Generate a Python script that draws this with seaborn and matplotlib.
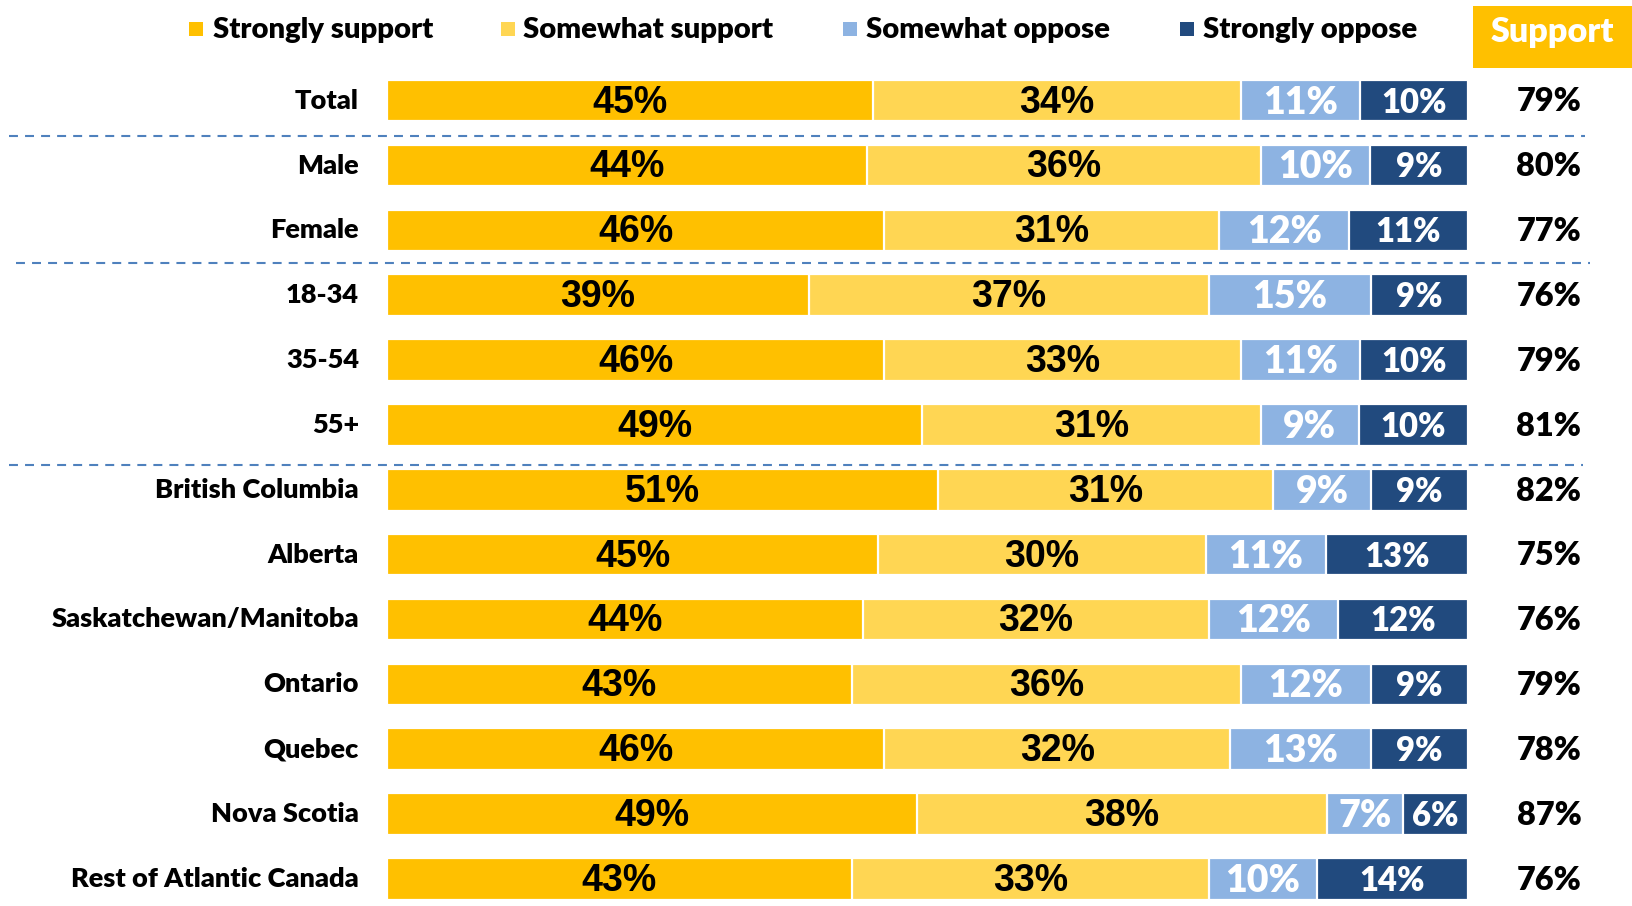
import numpy as np
import pandas as pd
import matplotlib
matplotlib.use("Agg")
import matplotlib.pyplot as plt
from matplotlib.patches import Rectangle
import seaborn as sns

categories = ["Total", "Male", "Female", "18-34", "35-54", "55+", "British Columbia",
              "Alberta", "Saskatchewan/Manitoba", "Ontario", "Quebec", "Nova Scotia",
              "Rest of Atlantic Canada"]
strongly_support = [45, 44, 46, 39, 46, 49, 51, 45, 44, 43, 46, 49, 43]
somewhat_support = [34, 36, 31, 37, 33, 31, 31, 30, 32, 36, 32, 38, 33]
somewhat_oppose = [11, 10, 12, 15, 11, 9, 9, 11, 12, 12, 13, 7, 10]
strongly_oppose = [10, 9, 11, 9, 10, 10, 9, 13, 12, 9, 9, 6, 14]
support_total = [79, 80, 77, 76, 79, 81, 82, 75, 76, 79, 78, 87, 76]
series_names = ["Strongly support", "Somewhat support", "Somewhat oppose", "Strongly oppose"]

colors = ["#FFC000", "#FFD653", "#8DB3E2", "#214A7E"]
label_colors = ["black", "black", "white", "white"]
label_sizes = [27, 27, 27, 23.7]

sns.set_theme(style="white")
plt.rcParams["font.family"] = ["Lato", "DejaVu Sans"]
WEIGHT = "heavy"

W, H = 1632, 906
X0, X1 = 387, 1468
Y0, DY = 100.7, 64.85
def dx(p): return (p - X0) / (X1 - X0) * 100
def dy(p): return (p - Y0) / DY

fig = plt.figure(figsize=(W / 100, H / 100), dpi=100)
ax = fig.add_axes([0, 0, 1, 1])

vals = np.array([strongly_support, somewhat_support, somewhat_oppose, strongly_oppose], dtype=float)
norm = vals / vals.sum(axis=0) * 100
cum = np.cumsum(norm, axis=0)

for k in range(3, -1, -1):
    df = pd.DataFrame({"cat": categories, "x": cum[k]})
    sns.barplot(data=df, x="x", y="cat", orient="h", color=colors[k], width=0.64,
                edgecolor="white", linewidth=1.6, saturation=1, ax=ax)

for k in range(4):
    starts = cum[k] - norm[k]
    for i in range(len(categories)):
        cx = starts[i] + norm[k][i] / 2
        if k < 2:
            ax.text(cx, i + 0.03, f"{int(vals[k][i])}%", ha="center", va="center",
                    fontsize=label_sizes[k], fontweight="bold",
                    family=["Liberation Sans", "DejaVu Sans"], color=label_colors[k])
        else:
            ax.text(cx, i + 0.03, f"{int(vals[k][i])}%", ha="center", va="center",
                    fontsize=label_sizes[k], fontweight=WEIGHT, color=label_colors[k])

for i, c in enumerate(categories):
    ax.text(dx(359), i, c, ha="right", va="center", fontsize=19.5, fontweight=WEIGHT, color="black")
    ax.text(dx(1549), i + 0.02, f"{support_total[i]}%", ha="center", va="center",
            fontsize=23.4, fontweight=WEIGHT, color="black")

# separators
for (xa, xb, yp) in [(9, 1585, 135.7), (16, 1590, 263.3), (9, 1583, 464.5)]:
    ax.plot([dx(xa), dx(xb)], [dy(yp), dy(yp)], color="#4F81BD", lw=1.5,
            dashes=(4.3, 3.4))

# support header box
ax.add_patch(Rectangle((dx(1473), dy(6)), dx(1640) - dx(1473), dy(68) - dy(6),
                       facecolor="#FFC000", edgecolor="none", clip_on=False))
ax.text(dx(1552), dy(32), "Support", ha="center", va="center", fontsize=24.6,
        fontweight=WEIGHT, color="white")

# legend
sq_x = [189, 501, 843, 1180]
tx_x = [213, 523, 866, 1203]
for k in range(4):
    ax.add_patch(Rectangle((dx(sq_x[k]), dy(22)), dx(sq_x[k] + 14) - dx(sq_x[k]), dy(36) - dy(22),
                           facecolor=colors[k], edgecolor="none"))
    ax.text(dx(tx_x[k]), dy(30), series_names[k], ha="left", va="center", fontsize=21.1,
            fontweight=WEIGHT, color="black")

ax.set_xlim(dx(0), dx(W))
ax.set_ylim(dy(H), dy(0))
ax.axis("off")

fig.savefig("out.png", dpi=100)
